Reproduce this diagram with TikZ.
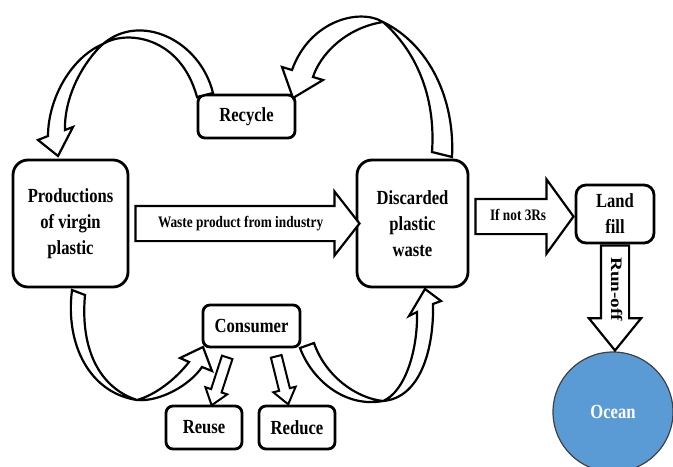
\documentclass[tikz,border=0pt]{standalone}
\usepackage{fontspec}
\setmainfont{Liberation Serif}[FakeStretch=0.83]
\newfontfamily\runfont{Liberation Serif}[FakeStretch=1.2]
\usepackage{tikz}
\usetikzlibrary{shapes.arrows,calc}
\definecolor{oceanblue}{RGB}{91,155,213}

\begin{document}
\begin{tikzpicture}[x=0.5pt, y=-0.5pt,
	box/.style={draw, line width=1.4pt, rounded corners=3.5pt, align=center, inner sep=0pt, font=\bfseries\fontsize{10}{13}\selectfont},
	bigbox/.style={box, rounded corners=7.5pt},
	blockarrow/.style={single arrow, draw, fill=white, line width=1.1pt, single arrow head indent=0pt, inner xsep=1pt, text height=5.5pt, text depth=1.5pt, inner ysep=4.75pt, font=\bfseries\fontsize{8}{9}\selectfont},
	smallarrow/.style={single arrow, draw, fill=white, line width=1pt, inner xsep=0pt, inner ysep=2.25pt, text height=0pt, text depth=0pt, single arrow head extend=3pt, single arrow tip angle=74},
	curved/.style={draw, fill=white, line width=1.1pt, line join=miter}]
	\useasboundingbox (0,0) rectangle (673,466);

	\node[bigbox, minimum width=57.5pt, minimum height=63.5pt] (prod) at (70.5,223.5) {Productions\\of virgin\\plastic};
	\node[box, minimum width=48.5pt, minimum height=21.5pt] (rec) at (246.5,116.5) {Recycle};
	\node[bigbox, minimum width=55.5pt, minimum height=63.5pt] (disc) at (412.5,223.5) {Discarded\\plastic\\waste};
	\node[box, rounded corners=5pt, minimum width=39pt, minimum height=29pt] (land) at (615,214) {Land\\fill};
	\node[box, minimum width=48.5pt, minimum height=21pt] (cons) at (251.5,326) {Consumer};
	\node[box, minimum width=38pt, minimum height=21.5pt] (reuse) at (204,427.5) {Reuse};
	\node[box, minimum width=38pt, minimum height=21.5pt] (reduce) at (297,427.5) {Reduce};
	\node[circle, fill=oceanblue, draw=black!75, line width=0.6pt, minimum size=60pt, text=white, font=\bfseries\fontsize{10}{12}\selectfont] (ocean) at (613,412) {Ocean};

	\node[blockarrow, anchor=tail, xshift=2.5pt, minimum height=112pt, single arrow head extend=7.25pt, single arrow tip angle=104] (waste) at (prod.east) {Waste product from industry};
	\node[blockarrow, anchor=tail, xshift=2.5pt, yshift=3.5pt, minimum height=49pt, single arrow head extend=9.75pt, single arrow tip angle=108] (ifnot) at (disc.east) {If not 3Rs};
	\node[blockarrow, anchor=tail, rotate=-90, minimum height=52.5pt, text height=5pt, text depth=1pt, inner ysep=3.5pt, single arrow head extend=6pt, single arrow tip angle=78, font=\runfont\bfseries\fontsize{8}{9}\selectfont] (runoff) at (land.south) {Run-off};
	\node[smallarrow, anchor=tail, rotate=-108, minimum height=25.2pt] (toreuse) at ($(cons.south)+(-24,8)$) {};
	\node[smallarrow, anchor=tail, rotate=-76, minimum height=24.7pt] (toreduce) at ($(cons.south)+(24.5,7)$) {};

	\draw[curved] (213,93) .. controls (200,40) and (140,12) .. (103,44)
		.. controls (70,58) and (48,100) .. (48,136)
		-- (38,140) -- (58,156) -- (73,127) -- (65,130)
		.. controls (64,95) and (85,60) .. (103,44)
		.. controls (125,30) and (180,35) .. (197,97) -- cycle;
	\draw[curved] (452,157) .. controls (455,100) and (430,45) .. (383,22)
		.. controls (360,8) and (310,20) .. (292,70)
		-- (282,67) -- (293,98) -- (323,80) -- (313,77)
		.. controls (320,55) and (345,28) .. (383,22)
		.. controls (415,50) and (436,95) .. (432,152) -- cycle;
	\draw[curved] (72,290) .. controls (65,345) and (90,393) .. (137,400)
		.. controls (160,402) and (190,385) .. (202,367)
		-- (212,371) -- (203,347) -- (180,358) -- (189,362)
		.. controls (175,380) and (155,395) .. (137,400)
		.. controls (100,388) and (80,350) .. (85,295) -- cycle;
	\draw[curved] (300,348) .. controls (312,380) and (345,408) .. (383,401)
		.. controls (420,398) and (434,350) .. (433,304)
		-- (441,301) -- (425,289) -- (409,316) -- (417,312)
		.. controls (418,350) and (405,392) .. (383,401)
		.. controls (355,398) and (325,375) .. (314,343) -- cycle;
\end{tikzpicture}
\end{document}
